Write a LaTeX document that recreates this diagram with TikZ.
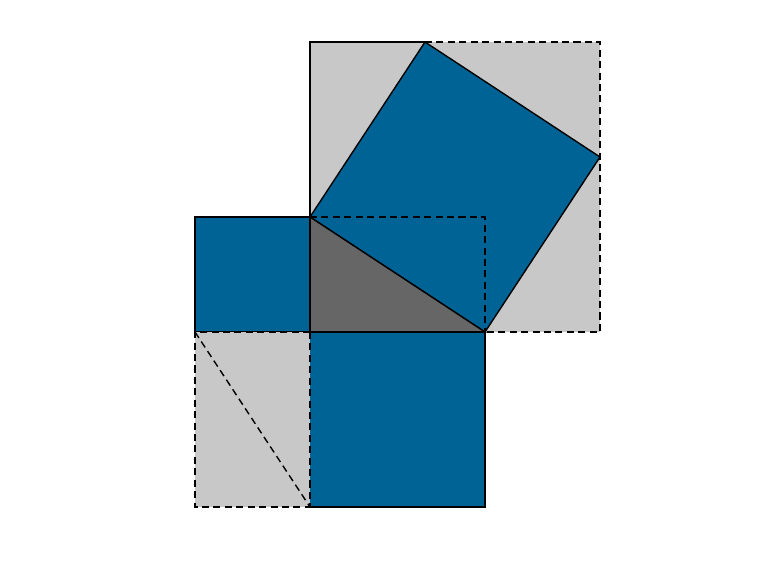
\documentclass[tikz,border=0pt]{standalone}
\usepackage{tikz}
\usetikzlibrary{calc}
\definecolor{sqblue}{RGB}{0,99,150}
\definecolor{lightgrey}{RGB}{200,200,200}
\definecolor{darkgrey}{RGB}{102,102,102}

\begin{document}
\begin{tikzpicture}[line width=0.8pt,
    dashline/.style={dashed,dash pattern=on 4pt off 2.5pt},
    bluesq/.style={fill=sqblue}]
\useasboundingbox (-6.2,-4.76) rectangle (9.16,6.64);

% Triangle corners
\coordinate (C) at (0,0);
\coordinate (A) at (0,2.3);
\coordinate (B) at (3.5,0);
\coordinate (P) at ($(B)+(2.3,3.5)$);
\coordinate (Q) at ($(A)+(2.3,3.5)$);

% Big grey square
\fill[lightgrey] (0,0) rectangle (5.8,5.8);
\draw[dashline] (Q) -- (5.8,5.8) -- (5.8,0) -- (B);
\draw (Q) -- (0,5.8) -- (A);

% Square on the hypotenuse
\draw[bluesq] (A) -- (B) -- (P) -- (Q) -- cycle;
\draw[dashline] (A) -- (3.5,2.3) -- (B);

% Triangle
\draw[fill=darkgrey] (A) -- (C) -- (B) -- cycle;

% Square on the short leg
\draw[bluesq] (-2.3,0) rectangle (A);

% Lower grey rectangle
\fill[lightgrey] (-2.3,-3.5) rectangle (C);
\draw[dashline] (C) -- (-2.3,0) -- (-2.3,-3.5) -- (0,-3.5);
\draw[dashline] (-2.3,0) -- (0,-3.5);

% Square on the long leg
\fill[sqblue] (0,-3.5) rectangle (B);
\draw (0,-3.5) -- (3.5,-3.5) -- (B) -- (C);
\draw[dashline] (C) -- (0,-3.5);
\end{tikzpicture}
\end{document}
